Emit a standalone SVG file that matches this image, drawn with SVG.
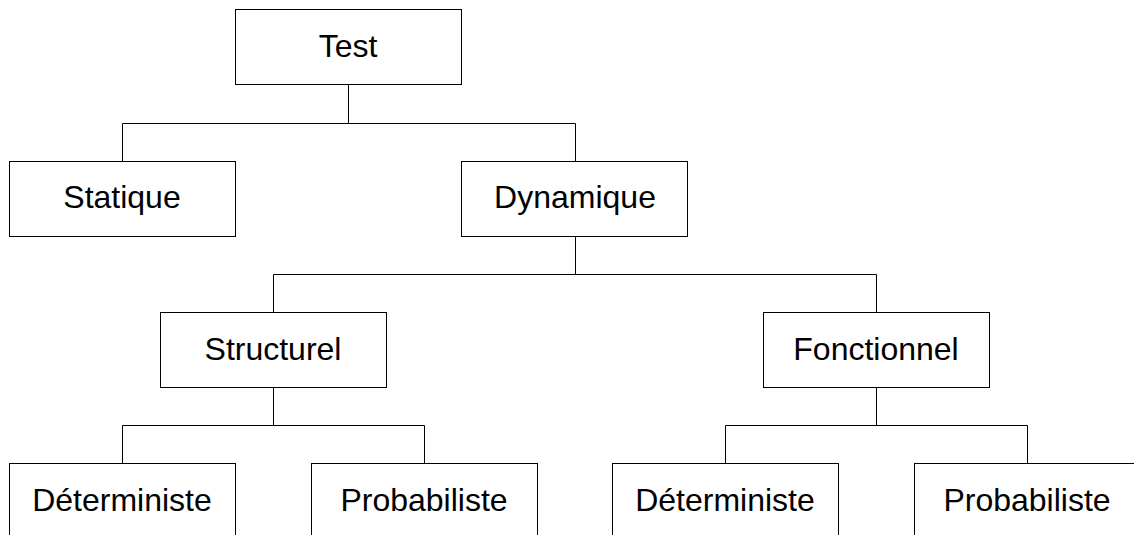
<svg xmlns="http://www.w3.org/2000/svg" width="1134" height="535" viewBox="0 0 1134 535">
<style>
.box{fill:#fff;stroke:#000;stroke-width:1}
.lbl{font-family:"Liberation Sans",Arial,sans-serif;font-size:32px;fill:#000;text-anchor:middle}
.con{fill:none;stroke:#000;stroke-width:1}
</style>
<rect width="1134" height="535" fill="#fff"/>
<g id="connectors">
<path class="con" d="M348.5 85V123.5M122.5 161V123.5H575.5V161"/>
<path class="con" d="M575.5 236V274.5M273.5 312V274.5H876.5V312"/>
<path class="con" d="M273.5 387V425.5M122.5 463V425.5H424.5V463"/>
<path class="con" d="M876.5 387V425.5M725.5 463V425.5H1027.5V463"/>
</g>
<g id="test"><rect class="box" x="235.5" y="9.5" width="226" height="75"/><text class="lbl" x="348" y="57">Test</text></g>
<g id="statique"><rect class="box" x="9.5" y="161.5" width="226" height="75"/><text class="lbl" x="122" y="208">Statique</text></g>
<g id="dynamique"><rect class="box" x="461.5" y="161.5" width="226" height="75"/><text class="lbl" x="575" y="208">Dynamique</text></g>
<g id="structurel"><rect class="box" x="160.5" y="312.5" width="226" height="75"/><text class="lbl" x="273" y="360">Structurel</text></g>
<g id="fonctionnel"><rect class="box" x="763.5" y="312.5" width="226" height="75"/><text class="lbl" x="876" y="360">Fonctionnel</text></g>
<g id="deterministe1"><rect class="box" x="9.5" y="463.5" width="226" height="75"/><text class="lbl" x="122" y="511">Déterministe</text></g>
<g id="probabiliste1"><rect class="box" x="311.5" y="463.5" width="226" height="75"/><text class="lbl" x="424" y="511">Probabiliste</text></g>
<g id="deterministe2"><rect class="box" x="612.5" y="463.5" width="226" height="75"/><text class="lbl" x="725" y="511">Déterministe</text></g>
<g id="probabiliste2"><rect class="box" x="914.5" y="463.5" width="226" height="75"/><text class="lbl" x="1027" y="511">Probabiliste</text></g>
</svg>
